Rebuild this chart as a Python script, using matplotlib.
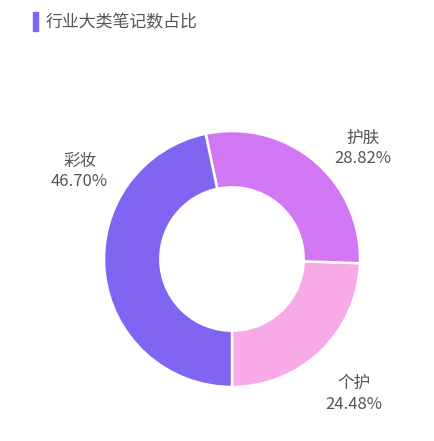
import matplotlib.pyplot as plt
from matplotlib.patches import Rectangle

plt.rcParams['font.family'] = ['Noto Sans CJK SC', 'DejaVu Sans']

categories = ['个护', '护肤', '彩妆']
shares = [24.48, 28.82, 46.70]
colors = ['#F7AAE6', '#D278F5', '#8064F2']
# label anchor positions (axes data units, radius 1 = outer edge)
label_pos = [(0.95, -1.056), (1.02, 0.864), (-1.19, 0.684)]

fig = plt.figure(figsize=(4.35, 4.41), dpi=100)
fig.patch.set_facecolor('white')

# title with accent bar
fig.patches.append(Rectangle((33 / 435, 1 - 31 / 441), 5 / 435, 19 / 441,
                             transform=fig.transFigure, color='#8064F2'))
fig.text(46 / 435, 1 - 22 / 441, '行业大类笔记数占比', fontsize=12.2,
         color='#555555', va='center', ha='left')

ax = fig.add_axes([104 / 435, 54 / 441, 256 / 435, 256 / 441])
ax.pie(shares, colors=colors, startangle=-90, counterclock=True,
       radius=1.0, wedgeprops=dict(width=0.44, edgecolor='white', linewidth=1.8))
ax.set_xlim(-1, 1)
ax.set_ylim(-1, 1)
ax.set_aspect('equal')
ax.axis('off')

for name, val, (x, y) in zip(categories, shares, label_pos):
    ax.text(x, y, f'{name}\n{val:.2f}%', ha='center', va='center',
            fontsize=12, color='#555555', linespacing=1.3, clip_on=False)

fig.savefig('out.png', dpi=100)
